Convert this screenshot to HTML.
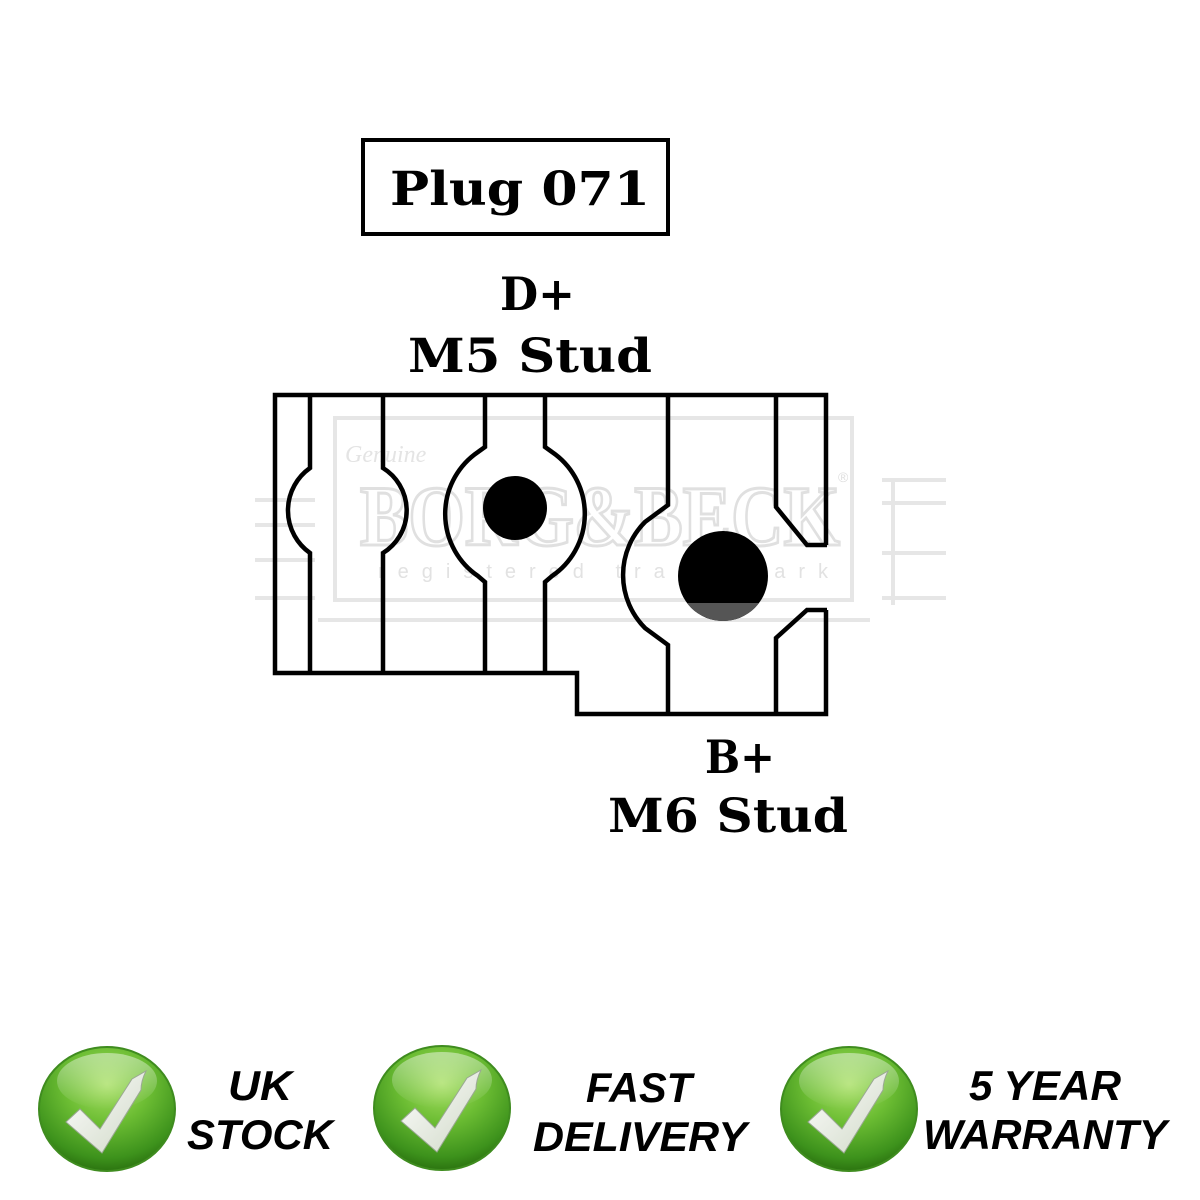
<!DOCTYPE html>
<html>
<head>
<meta charset="utf-8">
<style>
  html,body{margin:0;padding:0;background:#fff;}
  body{width:1200px;height:1200px;overflow:hidden;}
  svg{display:block;}
</style>
</head>
<body>
<svg width="1200" height="1200" viewBox="0 0 1200 1200" xmlns="http://www.w3.org/2000/svg">
  <defs>
    <radialGradient id="g1" cx="50%" cy="30%" r="70%">
      <stop offset="0" stop-color="#a9e065"/>
      <stop offset="0.45" stop-color="#6cbd33"/>
      <stop offset="0.85" stop-color="#3d921c"/>
      <stop offset="1" stop-color="#2c7410"/>
    </radialGradient>
    <linearGradient id="hl" x1="0" y1="0" x2="0" y2="1">
      <stop offset="0" stop-color="#ffffff" stop-opacity="0.45"/>
      <stop offset="1" stop-color="#ffffff" stop-opacity="0"/>
    </linearGradient>
    <linearGradient id="ck" x1="0" y1="0" x2="1" y2="1">
      <stop offset="0" stop-color="#ffffff"/>
      <stop offset="1" stop-color="#cfd8c6"/>
    </linearGradient>
    <g id="badge">
      <ellipse cx="0" cy="0" rx="68" ry="62" fill="url(#g1)" stroke="#3f8c1f" stroke-width="2"/>
      <ellipse cx="0" cy="-28" rx="50" ry="28" fill="url(#hl)"/>
      <path d="M-41 13 L-27 0 L-7 20 L25 -30 Q32 -34 39 -38 Q34 -28 34 -19 L-5 44 Z" fill="url(#ck)" stroke="#9aa893" stroke-width="1"/>
    </g>
  </defs>

  <!-- watermark (faint) -->
  <g fill="none" stroke="#e6e6e6" stroke-width="4">
    <rect x="335" y="418" width="517" height="182"/>
    <line x1="318" y1="620" x2="870" y2="620"/>
    <line x1="255" y1="500" x2="315" y2="500"/>
    <line x1="255" y1="525" x2="315" y2="525"/>
    <line x1="255" y1="560" x2="315" y2="560"/>
    <line x1="255" y1="598" x2="315" y2="598"/>
    <line x1="893" y1="480" x2="893" y2="605"/>
    <line x1="882" y1="503" x2="946" y2="503"/>
    <line x1="882" y1="553" x2="946" y2="553"/>
    <line x1="882" y1="598" x2="946" y2="598"/>
    <line x1="882" y1="480" x2="946" y2="480"/>
  </g>
  <text x="360" y="545" font-family="'Liberation Serif', serif" font-weight="bold" font-size="86" textLength="480" lengthAdjust="spacingAndGlyphs" fill="none" stroke="#e0e0e0" stroke-width="3">BORG&amp;BECK</text>
  <text x="378" y="578" font-family="'Liberation Sans', sans-serif" font-size="20" textLength="450" lengthAdjust="spacing" fill="#e2e2e2">registered trade mark</text>
  <text x="345" y="462" font-family="'Liberation Serif', serif" font-style="italic" font-size="24" fill="#e4e4e4">Genuine</text>
  <text x="838" y="482" font-family="'Liberation Sans', sans-serif" font-size="14" fill="#dedede">®</text>

  <!-- Plug box -->
  <rect x="363" y="140" width="305" height="94" fill="none" stroke="#000" stroke-width="4"/>
  <text x="390" y="205" font-family="'DejaVu Serif', 'Liberation Serif', serif" font-weight="bold" font-size="47" textLength="260" lengthAdjust="spacingAndGlyphs" fill="#000">Plug 071</text>

  <!-- Labels -->
  <text x="500" y="310" font-family="'DejaVu Serif', 'Liberation Serif', serif" font-weight="bold" font-size="46" textLength="75" lengthAdjust="spacingAndGlyphs" fill="#000">D+</text>
  <text x="408" y="372" font-family="'DejaVu Serif', 'Liberation Serif', serif" font-weight="bold" font-size="47" textLength="244" lengthAdjust="spacingAndGlyphs" fill="#000">M5 Stud</text>
  <text x="705" y="773" font-family="'DejaVu Serif', 'Liberation Serif', serif" font-weight="bold" font-size="46" textLength="70" lengthAdjust="spacingAndGlyphs" fill="#000">B+</text>
  <text x="608" y="832" font-family="'DejaVu Serif', 'Liberation Serif', serif" font-weight="bold" font-size="47" textLength="240" lengthAdjust="spacingAndGlyphs" fill="#000">M6 Stud</text>

  <!-- Plug diagram -->
  <g fill="none" stroke="#000" stroke-width="4.5" stroke-linejoin="miter">
    <path d="M826 545 V395 H275 V673 H577 V714 H826 V610"/>
    <path d="M310 395 V468 A52 52 0 0 0 310 553 V673"/>
    <path d="M383 395 V468 A50 50 0 0 1 383 553 V673"/>
    <path d="M485 395 V447 L478 452 A75 75 0 0 0 478 576 L485 582 V673"/>
    <path d="M545 395 V447 L552 452 A75 75 0 0 1 552 576 L545 582 V673"/>
    <path d="M668 395 V505 L645 522 A75 75 0 0 0 645 628 L668 645 V714"/>
    <path d="M776 395 V507 L807 545 H827"/>
    <path d="M827 610 H807 L776 638 V714"/>
  </g>
  <circle cx="515" cy="508" r="32" fill="#000"/>
  <circle cx="723" cy="576" r="45" fill="#000"/>
  <path d="M687 603 A45 45 0 0 0 759 603 Z" fill="#555"/>

  <!-- Badges -->
  <use href="#badge" x="107" y="1109"/>
  <use href="#badge" x="442" y="1108"/>
  <use href="#badge" x="849" y="1109"/>

  <g font-family="'Liberation Sans', Arial, sans-serif" font-weight="bold" font-style="italic" font-size="42" fill="#000" text-anchor="middle">
    <text x="260" y="1100" textLength="64" lengthAdjust="spacingAndGlyphs">UK</text>
    <text x="260" y="1149" textLength="146" lengthAdjust="spacingAndGlyphs">STOCK</text>
    <text x="639" y="1102" textLength="106" lengthAdjust="spacingAndGlyphs">FAST</text>
    <text x="640" y="1151" textLength="214" lengthAdjust="spacingAndGlyphs">DELIVERY</text>
    <text x="1045" y="1100" textLength="152" lengthAdjust="spacingAndGlyphs">5 YEAR</text>
    <text x="1045" y="1149" textLength="244" lengthAdjust="spacingAndGlyphs">WARRANTY</text>
  </g>
</svg>
</body>
</html>
